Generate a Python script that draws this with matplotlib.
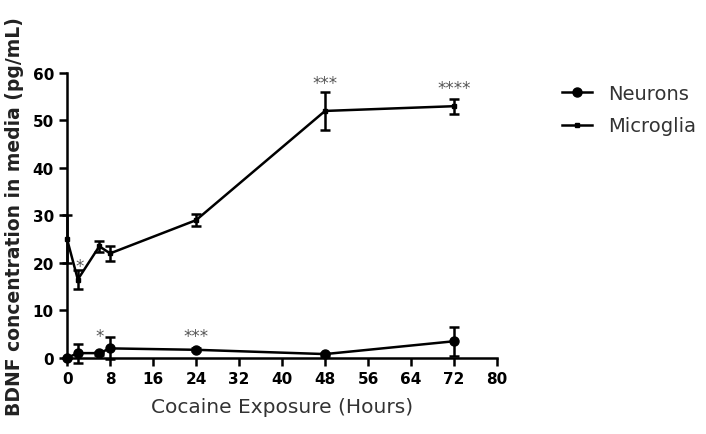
import numpy as np
import matplotlib.pyplot as plt
from matplotlib.lines import Line2D

plt.rcParams['font.family'] = ['DejaVu Sans']

# BDNF 濃度データ (pg/mL)
hours = [0, 2, 6, 8, 24, 48, 72]
neurons = [0.0, 1.0, 1.0, 2.0, 1.7, 0.8, 3.5]
neurons_err = [0.0, 2.0, 0.3, 2.3, 0.3, 0.3, 3.0]
microglia = [25.0, 16.5, 23.5, 22.0, 29.0, 52.0, 53.0]
microglia_err = [5.0, 2.0, 1.2, 1.6, 1.3, 4.0, 1.6]

# 有意差の星印 (x, y, 文字)
stars_x = [2.3, 6.0, 24.0, 48.0, 72.0]
stars_y = [19.3, 4.6, 4.6, 57.8, 56.8]
stars_txt = ['*', '*', '***', '***', '****']

xticks = np.arange(0, 81, 8)
yticks = np.arange(0, 61, 10)

fig = plt.figure(figsize=(7.06, 4.35), dpi=100)
ax = fig.add_axes([0.095, 0.175, 0.609, 0.655])

ax.errorbar(hours, neurons, yerr=neurons_err, color='black', lw=1.8,
            marker='o', ms=6.5, capsize=3.5, capthick=1.8, elinewidth=1.8,
            clip_on=False, zorder=3)
ax.errorbar(hours, microglia, yerr=microglia_err, color='black', lw=1.8,
            marker='s', ms=3.5, capsize=3.5, capthick=1.8, elinewidth=1.8,
            clip_on=False, zorder=3)

for x, y, t in zip(stars_x, stars_y, stars_txt):
    ax.text(x, y, t, ha='center', va='center', fontsize=12, color='#555555')

ax.set_xlim(0, 80)
ax.set_ylim(0, 60)
ax.set_xticks(xticks)
ax.set_yticks(yticks)
for s in ['top', 'right']:
    ax.spines[s].set_visible(False)
for s in ['left', 'bottom']:
    ax.spines[s].set_linewidth(1.8)
ax.tick_params(width=1.8, length=6, labelsize=11)
for lab in ax.get_xticklabels() + ax.get_yticklabels():
    lab.set_fontweight('bold')

ax.set_xlabel('Cocaine Exposure (Hours)', fontsize=14.5, color='#333333', labelpad=8)
ax.set_ylabel('BDNF concentration in media (pg/mL)', fontsize=13.5,
              fontweight='bold', color='#222222', labelpad=6)

handles = [Line2D([], [], color='black', lw=1.8, marker='o', ms=6.5),
           Line2D([], [], color='black', lw=1.8, marker='s', ms=3.5)]
leg = ax.legend(handles, ['Neurons', 'Microglia'], loc='upper left',
                bbox_to_anchor=(1.12, 1.01), frameon=False, fontsize=14,
                handlelength=1.55, handletextpad=0.8, labelspacing=0.7,
                borderaxespad=0.3)
for t in leg.get_texts():
    t.set_color('#333333')

fig.savefig('out.png', dpi=100)
